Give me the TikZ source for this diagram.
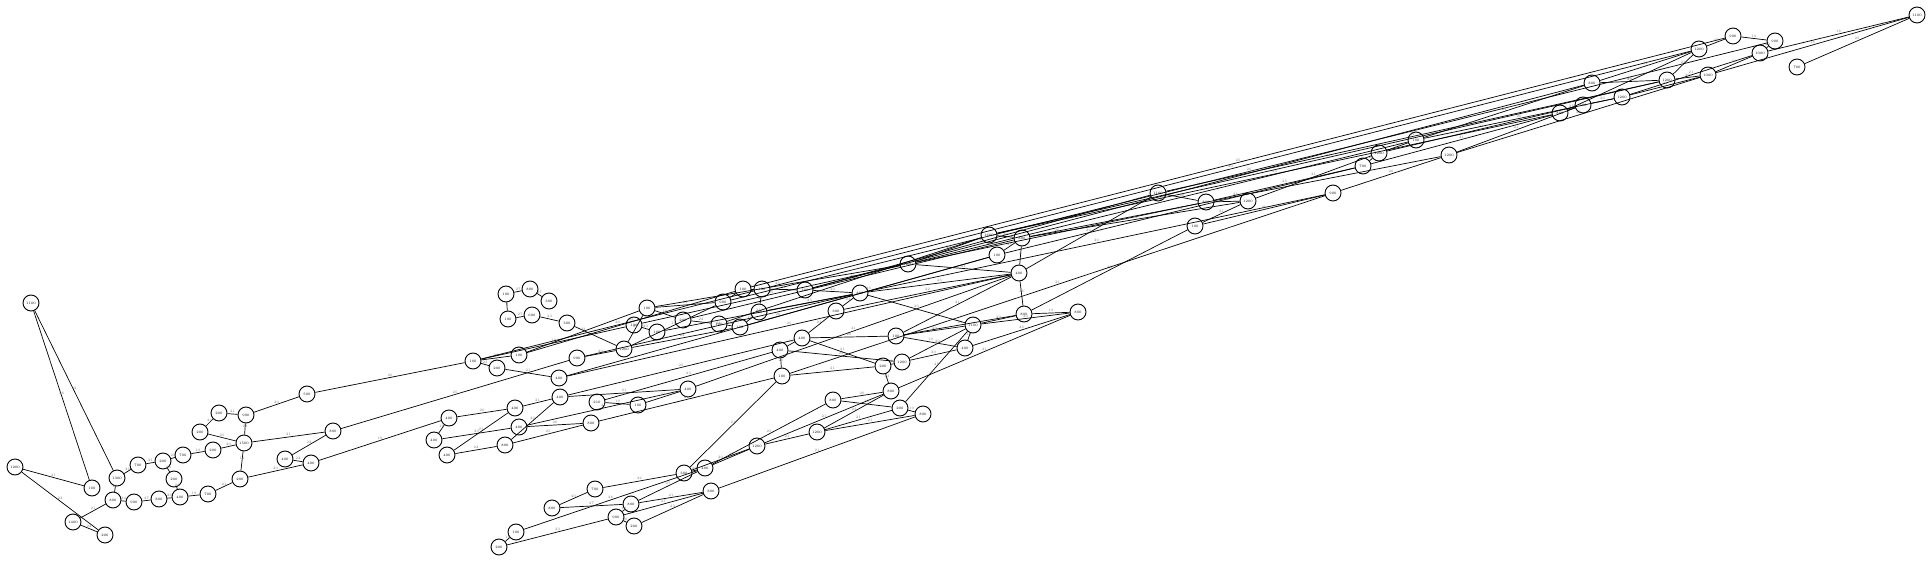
\documentclass[tikz,border=0pt]{standalone}
\begin{document}
\begin{tikzpicture}[x=1pt,y=-1pt,
 nd/.style={circle,draw,line width=0.9pt,minimum size=16pt,inner sep=0pt,font=\fontsize{3.5}{4}\selectfont},
 ed/.style={line width=0.7pt},
 el/.style={font=\fontsize{3.5}{4}\selectfont,text=black!55,inner sep=1pt,midway,above}]
\useasboundingbox (0,0) rectangle (1931,561);
% left cluster
\node[nd] (a1) at (31,303) {1100};
\node[nd] (a2) at (15,467) {1200};
\node[nd] (a3) at (92,488) {100};
\node[nd] (a4) at (117,478) {1300};
\node[nd] (a5) at (73,522) {1400};
\node[nd] (a6) at (105,535) {200};
\node[nd] (a7) at (113,500) {800};
\node[nd] (a8) at (138,465) {700};
\node[nd] (a9) at (134,502) {900};
\node[nd] (a10) at (159,499) {800};
\node[nd] (a11) at (163,461) {200};
\node[nd] (a12) at (180,497) {400};
\node[nd] (a13) at (174,479) {200};
\node[nd] (a14) at (183,455) {700};
\node[nd] (a15) at (200,432) {200};
\node[nd] (a16) at (219,413) {200};
\node[nd] (a17) at (246,415) {900};
\node[nd] (a18) at (213,450) {200};
\node[nd] (a19) at (244,443) {1500};
\node[nd] (a20) at (208,494) {700};
\node[nd] (a21) at (240,479) {200};
\node[nd] (a22) at (307,394) {500};
\node[nd] (a23) at (285,459) {400};
\node[nd] (a24) at (311,463) {400};
\node[nd] (a25) at (333,431) {800};
% top small cluster
\node[nd] (t1) at (506,294) {100};
\node[nd] (t2) at (530,289) {800};
\node[nd] (t3) at (549,301) {300};
\node[nd] (t4) at (508,319) {100};
\node[nd] (t5) at (532,315) {600};
\node[nd] (t6) at (567,323) {300};
% middle left
\node[nd] (b1) at (473,361) {100};
\node[nd] (b2) at (497,368) {200};
\node[nd] (b3) at (519,355) {100};
\node[nd] (b4) at (559,378) {400};
\node[nd] (b5) at (577,358) {900};
\node[nd] (b6) at (624,349) {1200};
\node[nd] (b7) at (560,397) {400};
\node[nd] (b8) at (515,408) {400};
\node[nd] (b9) at (597,402) {210};
\node[nd] (b10) at (638,405) {100};
\node[nd] (b11) at (688,389) {400};
\node[nd] (b12) at (449,418) {400};
\node[nd] (b13) at (519,427) {400};
\node[nd] (b14) at (591,423) {800};
\node[nd] (b15) at (434,440) {400};
\node[nd] (b16) at (447,455) {400};
\node[nd] (b17) at (505,445) {800};
% middle
\node[nd] (m1) at (647,308) {100};
\node[nd] (m2) at (723,302) {900};
\node[nd] (m3) at (743,289) {100};
\node[nd] (m4) at (762,289) {100};
\node[nd] (m5) at (634,325) {100};
\node[nd] (m6) at (657,332) {100};
\node[nd] (m7) at (683,320) {200};
\node[nd] (m8) at (719,324) {100};
\node[nd] (m9) at (740,327) {100};
\node[nd] (m10) at (759,312) {100};
\node[nd] (m11) at (805,290) {100};
\node[nd] (m12) at (860,293) {800};
\node[nd] (m13) at (836,311) {300};
\node[nd] (m14) at (908,264) {1200};
\node[nd] (m15) at (989,235) {1600};
\node[nd] (m16) at (997,255) {100};
\node[nd] (m17) at (1019,273) {400};
\node[nd] (m18) at (1022,238) {800};
% lower middle
\node[nd] (l1) at (802,338) {400};
\node[nd] (l2) at (780,350) {400};
\node[nd] (l3) at (896,336) {100};
\node[nd] (l4) at (973,325) {1100};
\node[nd] (l5) at (1024,314) {800};
\node[nd] (l6) at (1078,312) {800};
\node[nd] (l7) at (965,348) {400};
\node[nd] (l8) at (883,366) {200};
\node[nd] (l9) at (902,362) {1200};
\node[nd] (l10) at (782,376) {100};
\node[nd] (l11) at (891,391) {800};
\node[nd] (l12) at (833,400) {800};
\node[nd] (l13) at (900,408) {200};
\node[nd] (l14) at (923,414) {800};
\node[nd] (l15) at (817,432) {1200};
% bottom
\node[nd] (d1) at (757,446) {1200};
\node[nd] (d2) at (705,468) {400};
\node[nd] (d3) at (684,473) {300};
\node[nd] (d4) at (595,489) {700};
\node[nd] (d5) at (711,491) {800};
\node[nd] (d6) at (552,508) {800};
\node[nd] (d7) at (631,504) {800};
\node[nd] (d8) at (616,517) {900};
\node[nd] (d9) at (634,526) {200};
\node[nd] (d10) at (516,532) {100};
\node[nd] (d11) at (499,547) {200};
% upper right
\node[nd] (u1) at (1158,193) {1100};
\node[nd] (u2) at (1195,226) {100};
\node[nd] (u3) at (1206,202) {800};
\node[nd] (u4) at (1248,201) {1200};
\node[nd] (u5) at (1333,193) {900};
\node[nd] (u6) at (1363,166) {700};
\node[nd] (u7) at (1379,153) {1200};
\node[nd] (u8) at (1416,140) {100};
\node[nd] (u9) at (1449,155) {1200};
\node[nd] (u10) at (1560,113) {800};
\node[nd] (u11) at (1583,105) {700};
\node[nd] (u12) at (1592,83) {800};
\node[nd] (u13) at (1622,97) {1200};
\node[nd] (u14) at (1667,80) {1200};
\node[nd] (u15) at (1699,49) {1200};
\node[nd] (u16) at (1708,75) {1000};
\node[nd] (u17) at (1733,36) {900};
\node[nd] (u18) at (1760,53) {1000};
\node[nd] (u19) at (1775,41) {900};
\node[nd] (u20) at (1797,67) {700};
\node[nd] (u21) at (1917,15) {1100};
% edges left
\draw[ed] (a1) -- node[el]{28} (a3);
\draw[ed] (a1) -- node[el]{22} (a4);
\draw[ed] (a2) -- node[el]{21} (a3);
\draw[ed] (a2) -- node[el]{22} (a6);
\draw[ed] (a5) -- node[el]{21} (a7);
\draw[ed] (a5) -- node[el]{22} (a6);
\draw[ed] (a4) -- node[el]{20} (a7);
\draw[ed] (a4) -- node[el]{26} (a8);
\draw[ed] (a8) -- node[el]{21} (a11);
\draw[ed] (a11) -- node[el]{23} (a14);
\draw[ed] (a11) -- node[el]{23} (a13);
\draw[ed] (a13) -- node[el]{23} (a12);
\draw[ed] (a7) -- node[el]{24} (a9);
\draw[ed] (a9) -- node[el]{27} (a10);
\draw[ed] (a10) -- node[el]{26} (a12);
\draw[ed] (a12) -- node[el]{19} (a20);
\draw[ed] (a20) -- node[el]{21} (a21);
\draw[ed] (a21) -- node[el]{19} (a19);
\draw[ed] (a19) -- node[el]{28} (a17);
\draw[ed] (a16) -- node[el]{21} (a17);
\draw[ed] (a15) -- node[el]{24} (a16);
\draw[ed] (a15) -- node[el]{25} (a19);
\draw[ed] (a18) -- node[el]{20} (a19);
\draw[ed] (a14) -- node[el]{19} (a18);
\draw[ed] (a17) -- node[el]{20} (a22);
\draw[ed] (a19) -- node[el]{21} (a25);
\draw[ed] (a21) -- node[el]{20} (a24);
\draw[ed] (a23) -- node[el]{22} (a24);
\draw[ed] (a23) -- node[el]{22} (a25);
\draw[ed] (a22) -- node[el]{20} (b1);
\draw[ed] (a25) -- node[el]{25} (b5);
\draw[ed] (a24) -- node[el]{19} (b12);
% top cluster
\draw[ed] (t1) -- node[el]{27} (t2);
\draw[ed] (t2) -- node[el]{27} (t3);
\draw[ed] (t1) -- node[el]{8} (t4);
\draw[ed] (t4) -- node[el]{27} (t5);
\draw[ed] (t5) -- node[el]{23} (t6);
\draw[ed] (t6) -- node[el]{21} (b6);
% middle left
\draw[ed] (b1) -- node[el]{23} (b2);
\draw[ed] (b1) -- node[el]{20} (b3);
\draw[ed] (b2) -- node[el]{21} (b4);
\draw[ed] (b1) -- node[el]{19} (m5);
\draw[ed] (b3) -- node[el]{23} (m1);
\draw[ed] (b5) -- node[el]{20} (b6);
\draw[ed] (b6) -- node[el]{21} (m1);
\draw[ed] (b6) -- node[el]{19} (m2);
\draw[ed] (b4) -- node[el]{25} (m17);
\draw[ed] (b4) -- node[el]{26} (m16);
\draw[ed] (b7) -- node[el]{21} (b11);
\draw[ed] (b7) -- node[el]{25} (l1);
\draw[ed] (b8) -- node[el]{21} (b7);
\draw[ed] (b8) -- node[el]{20} (b12);
\draw[ed] (b12) -- node[el]{19} (b15);
\draw[ed] (b15) -- node[el]{20} (b13);
\draw[ed] (b16) -- node[el]{21} (b8);
\draw[ed] (b16) -- node[el]{22} (b17);
\draw[ed] (b17) -- node[el]{25} (b14);
\draw[ed] (b17) -- node[el]{20} (b7);
\draw[ed] (b13) -- node[el]{20} (b14);
\draw[ed] (b13) -- node[el]{21} (b11);
\draw[ed] (b9) -- node[el]{19} (b10);
\draw[ed] (b10) -- node[el]{21} (b11);
\draw[ed] (b9) -- node[el]{23} (l2);
\draw[ed] (b14) -- node[el]{21} (l10);
\draw[ed] (b11) -- node[el]{21} (m17);
\draw[ed] (b3) -- node[el]{25} (m3);
\draw[ed] (b1) -- node[el]{26} (m4);
\draw[ed] (b6) -- node[el]{22} (m9);
\draw[ed] (b5) -- node[el]{21} (m12);
% middle
\draw[ed] (m1) -- node[el]{21} (m2);
\draw[ed] (m1) -- node[el]{19} (m7);
\draw[ed] (m5) -- node[el]{20} (m6);
\draw[ed] (m7) -- node[el]{22} (m8);
\draw[ed] (m8) -- node[el]{20} (m9);
\draw[ed] (m9) -- node[el]{19} (m10);
\draw[ed] (m2) -- node[el]{21} (m3);
\draw[ed] (m3) -- node[el]{19} (m4);
\draw[ed] (m4) -- node[el]{21} (m10);
\draw[ed] (m10) -- node[el]{23} (m12);
\draw[ed] (m11) -- node[el]{20} (m12);
\draw[ed] (m12) -- node[el]{25} (m17);
\draw[ed] (m13) -- node[el]{22} (m17);
\draw[ed] (m12) -- node[el]{23} (m13);
\draw[ed] (m4) -- node[el]{21} (m11);
\draw[ed] (m9) -- node[el]{26} (m16);
\draw[ed] (m8) -- node[el]{25} (m15);
\draw[ed] (m7) -- node[el]{26} (m18);
\draw[ed] (m6) -- node[el]{21} (m12);
\draw[ed] (m5) -- node[el]{25} (m14);
\draw[ed] (m1) -- node[el]{25} (m14);
\draw[ed] (m14) -- node[el]{20} (m15);
\draw[ed] (m15) -- node[el]{20} (m18);
\draw[ed] (m16) -- node[el]{25} (m18);
\draw[ed] (m17) -- node[el]{8} (m18);
\draw[ed] (m14) -- node[el]{21} (m17);
% long bundle
\draw[ed] (m3) -- node[el]{25} (u17);
\draw[ed] (m4) -- node[el]{20} (u15);
\draw[ed] (m2) -- node[el]{26} (u19);
\draw[ed] (m11) -- node[el]{21} (u12);
\draw[ed] (m11) -- node[el]{25} (u1);
\draw[ed] (m14) -- node[el]{21} (u8);
\draw[ed] (m14) -- node[el]{26} (u3);
\draw[ed] (m12) -- node[el]{20} (u5);
\draw[ed] (m15) -- node[el]{21} (u14);
\draw[ed] (m15) -- node[el]{23} (u10);
\draw[ed] (m18) -- node[el]{25} (u9);
\draw[ed] (m18) -- node[el]{22} (u4);
\draw[ed] (m16) -- node[el]{20} (u6);
\draw[ed] (m17) -- node[el]{26} (u1);
\draw[ed] (l5) -- node[el]{20} (u2);
\draw[ed] (l10) -- node[el]{21} (u5);
\draw[ed] (u1) -- node[el]{21} (u14);
% lower middle
\draw[ed] (l15) -- node[el]{23} (l11);
\draw[ed] (l15) -- node[el]{21} (l13);
\draw[ed] (l15) -- node[el]{21} (l14);
\draw[ed] (l12) -- node[el]{18} (l13);
\draw[ed] (l12) -- node[el]{20} (l11);
\draw[ed] (l11) -- node[el]{23} (l8);
\draw[ed] (l11) -- node[el]{21} (l6);
\draw[ed] (l13) -- node[el]{25} (l4);
\draw[ed] (l13) -- node[el]{19} (l14);
\draw[ed] (l8) -- node[el]{21} (l10);
\draw[ed] (l8) -- node[el]{20} (l9);
\draw[ed] (l9) -- node[el]{20} (l4);
\draw[ed] (l9) -- node[el]{20} (l7);
\draw[ed] (l9) -- node[el]{25} (l2);
\draw[ed] (l8) -- node[el]{21} (l1);
\draw[ed] (l3) -- node[el]{19} (l7);
\draw[ed] (l3) -- node[el]{20} (l1);
\draw[ed] (l3) -- node[el]{23} (l4);
\draw[ed] (l3) -- node[el]{21} (l5);
\draw[ed] (l7) -- node[el]{26} (l6);
\draw[ed] (l7) -- node[el]{19} (l4);
\draw[ed] (l4) -- node[el]{20} (l5);
\draw[ed] (l4) -- node[el]{20} (l6);
\draw[ed] (l5) -- node[el]{26} (m17);
\draw[ed] (l5) -- node[el]{19} (l6);
\draw[ed] (l1) -- node[el]{20} (l2);
\draw[ed] (l2) -- node[el]{20} (l10);
\draw[ed] (l1) -- node[el]{21} (m13);
\draw[ed] (l4) -- node[el]{20} (m12);
\draw[ed] (l3) -- node[el]{21} (m17);
% bottom
\draw[ed] (d11) -- node[el]{19} (d10);
\draw[ed] (d11) -- node[el]{23} (d8);
\draw[ed] (d10) -- node[el]{28} (d2);
\draw[ed] (d6) -- node[el]{20} (d4);
\draw[ed] (d6) -- node[el]{27} (d7);
\draw[ed] (d4) -- node[el]{26} (d3);
\draw[ed] (d7) -- node[el]{21} (d5);
\draw[ed] (d7) -- node[el]{27} (d2);
\draw[ed] (d8) -- node[el]{27} (d5);
\draw[ed] (d9) -- node[el]{23} (d5);
\draw[ed] (d7) -- node[el]{19} (d8);
\draw[ed] (d8) -- node[el]{20} (d9);
\draw[ed] (d3) -- node[el]{20} (d2);
\draw[ed] (d2) -- node[el]{21} (d1);
\draw[ed] (d3) -- node[el]{20} (d1);
\draw[ed] (d5) -- node[el]{21} (l14);
\draw[ed] (d1) -- node[el]{21} (l15);
\draw[ed] (d1) -- node[el]{21} (l11);
\draw[ed] (d2) -- node[el]{25} (l12);
\draw[ed] (d3) -- node[el]{21} (l10);
% upper right
\draw[ed] (u1) -- node[el]{20} (u3);
\draw[ed] (u3) -- node[el]{20} (u4);
\draw[ed] (u2) -- node[el]{21} (u4);
\draw[ed] (u2) -- node[el]{20} (u5);
\draw[ed] (u5) -- node[el]{20} (u9);
\draw[ed] (u4) -- node[el]{21} (u7);
\draw[ed] (u3) -- node[el]{25} (u6);
\draw[ed] (u6) -- node[el]{20} (u7);
\draw[ed] (u6) -- node[el]{21} (u10);
\draw[ed] (u7) -- node[el]{19} (u8);
\draw[ed] (u7) -- node[el]{21} (u11);
\draw[ed] (u8) -- node[el]{21} (u12);
\draw[ed] (u8) -- node[el]{20} (u13);
\draw[ed] (u9) -- node[el]{21} (u11);
\draw[ed] (u9) -- node[el]{20} (u16);
\draw[ed] (u10) -- node[el]{25} (u11);
\draw[ed] (u11) -- node[el]{20} (u13);
\draw[ed] (u13) -- node[el]{21} (u16);
\draw[ed] (u12) -- node[el]{20} (u14);
\draw[ed] (u14) -- node[el]{23} (u15);
\draw[ed] (u14) -- node[el]{20} (u16);
\draw[ed] (u13) -- node[el]{21} (u18);
\draw[ed] (u16) -- node[el]{20} (u18);
\draw[ed] (u10) -- node[el]{21} (u15);
\draw[ed] (u12) -- node[el]{21} (u15);
\draw[ed] (u15) -- node[el]{27} (u17);
\draw[ed] (u17) -- node[el]{19} (u19);
\draw[ed] (u19) -- node[el]{20} (u18);
\draw[ed] (u18) -- node[el]{18} (u21);
\draw[ed] (u16) -- node[el]{16} (u21);
\draw[ed] (u20) -- node[el]{25} (u21);
\end{tikzpicture}
\end{document}
